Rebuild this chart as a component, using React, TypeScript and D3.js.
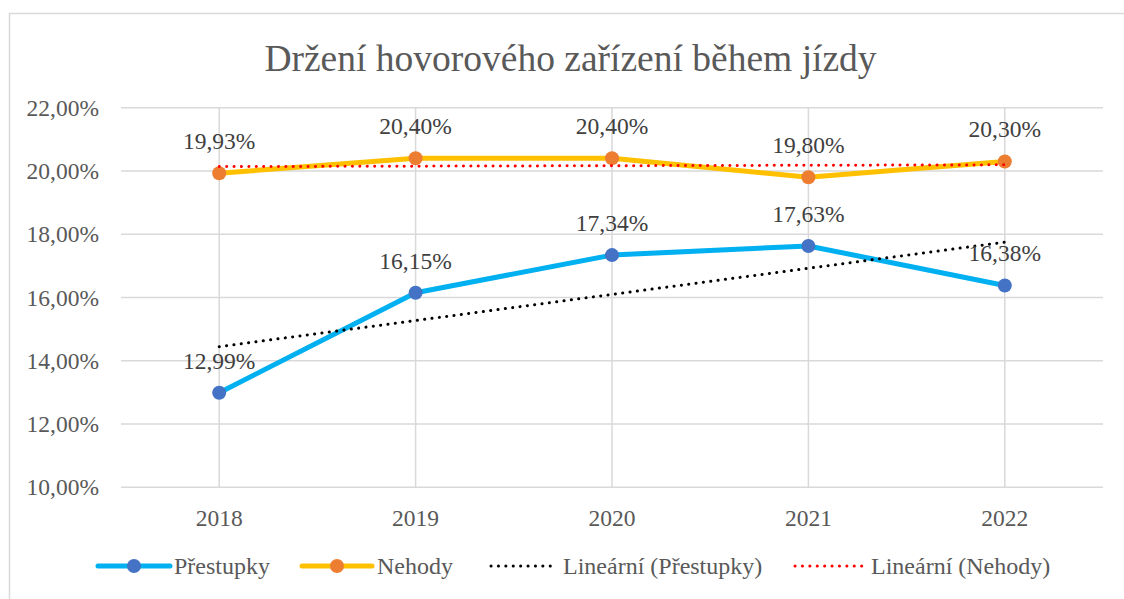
import React, { useEffect, useRef } from "react";
import { select, scaleLinear, scalePoint, line, range } from "d3";

const years = ["2018", "2019", "2020", "2021", "2022"];
const prestupky = [12.99, 16.15, 17.34, 17.63, 16.38];
const nehody = [19.93, 20.4, 20.4, 19.8, 20.3];
const yTicks = [10, 12, 14, 16, 18, 20, 22];
const title = "Držení hovorového zařízení během jízdy";

const fmt = (v: number) => v.toFixed(2).replace(".", ",") + "%";

// least squares line, like Excel's linear trendline
const trend = (vals: number[]) => {
  const n = vals.length;
  const xs = range(1, n + 1);
  const mx = (n + 1) / 2;
  const my = vals.reduce((a, b) => a + b, 0) / n;
  let num = 0, den = 0;
  xs.forEach((x, i) => {
    num += (x - mx) * (vals[i] - my);
    den += (x - mx) * (x - mx);
  });
  const k = num / den;
  return xs.map((x) => my + k * (x - mx));
};

const App = () => {
  const svgRef = useRef<SVGSVGElement>(null);

  useEffect(() => {
    const svg = select(svgRef.current);
    svg.selectAll("*").remove();
    const font = "Liberation Serif, Times New Roman, serif";
    const grey = "#595959";

    const left = 121, right = 1103, top = 107.7, bottom = 487.3;

    const x = scalePoint<string>().domain(years).range([left, right]).padding(0.5);
    const y = scaleLinear().domain([10, 22]).range([bottom, top]);

    // chart border
    svg.append("rect")
      .attr("x", 9.5).attr("y", 13.5)
      .attr("width", 1300).attr("height", 800)
      .attr("fill", "white").attr("stroke", "#d9d9d9").attr("stroke-width", 1.5);

    svg.append("text")
      .attr("x", 570.5).attr("y", 71)
      .attr("text-anchor", "middle")
      .attr("font-family", font).attr("font-size", 37.5)
      .attr("fill", grey).text(title);

    // gridlines
    svg.selectAll(".hgrid").data(yTicks).join("line")
      .attr("x1", left).attr("x2", right)
      .attr("y1", (d) => y(d)).attr("y2", (d) => y(d))
      .attr("stroke", "#d9d9d9").attr("stroke-width", 1.5);
    svg.selectAll(".vgrid").data(years).join("line")
      .attr("x1", (d) => x(d)!).attr("x2", (d) => x(d)!)
      .attr("y1", top).attr("y2", bottom)
      .attr("stroke", "#d9d9d9").attr("stroke-width", 1.5);

    svg.selectAll(".ylab").data(yTicks).join("text")
      .attr("x", 99).attr("y", (d) => y(d) + 8)
      .attr("text-anchor", "end")
      .attr("font-family", font).attr("font-size", 23.5).attr("fill", grey)
      .text((d) => d.toFixed(2).replace(".", ",") + "%");

    svg.selectAll(".xlab").data(years).join("text")
      .attr("x", (d) => x(d)!).attr("y", 526)
      .attr("text-anchor", "middle")
      .attr("font-family", font).attr("font-size", 23.5).attr("fill", grey)
      .text((d) => d);

    const gen = line<number>().x((_, i) => x(years[i])!).y((d) => y(d));

    const series = [
      { vals: nehody, line: "#FFC000", marker: "#ED7D31", trendColor: "red" },
      { vals: prestupky, line: "#00B0F0", marker: "#4472C4", trendColor: "black" },
    ];

    series.forEach((s) => {
      svg.append("path").datum(s.vals)
        .attr("d", gen).attr("fill", "none")
        .attr("stroke", s.line).attr("stroke-width", 5)
        .attr("stroke-linejoin", "round");
    });
    series.forEach((s) => {
      svg.append("g").selectAll("circle").data(s.vals).join("circle")
        .attr("cx", (_, i) => x(years[i])!).attr("cy", (d) => y(d))
        .attr("r", 7).attr("fill", s.marker);
    });
    series.forEach((s) => {
      svg.append("path").datum(trend(s.vals))
        .attr("d", gen).attr("fill", "none")
        .attr("stroke", s.trendColor).attr("stroke-width", 3)
        .attr("stroke-linecap", "round")
        .attr("stroke-dasharray", "0.1 7.3");
    });
    series.forEach((s) => {
      svg.append("g").selectAll("text").data(s.vals).join("text")
        .attr("x", (_, i) => x(years[i])!).attr("y", (d) => y(d) - 24)
        .attr("text-anchor", "middle")
        .attr("font-family", font).attr("font-size", 23.5).attr("fill", "#404040")
        .text((d) => fmt(d));
    });

    // legend
    const ly = 566;
    const legend = [
      { x0: 98, x1: 170, tx: 174, label: "Přestupky", color: "#00B0F0", marker: "#4472C4", dotted: false },
      { x0: 302, x1: 372, tx: 377, label: "Nehody", color: "#FFC000", marker: "#ED7D31", dotted: false },
      { x0: 491, x1: 556, tx: 563, label: "Lineární (Přestupky)", color: "black", marker: null, dotted: true },
      { x0: 795, x1: 862, tx: 871, label: "Lineární (Nehody)", color: "red", marker: null, dotted: true },
    ];
    legend.forEach((l) => {
      svg.append("line")
        .attr("x1", l.x0).attr("x2", l.x1).attr("y1", ly).attr("y2", ly)
        .attr("stroke", l.color).attr("stroke-width", l.dotted ? 3 : 5)
        .attr("stroke-linecap", "round")
        .attr("stroke-dasharray", l.dotted ? "0.1 7.3" : null);
      if (l.marker) {
        svg.append("circle").attr("cx", (l.x0 + l.x1) / 2).attr("cy", ly)
          .attr("r", 7).attr("fill", l.marker);
      }
      svg.append("text")
        .attr("x", l.tx).attr("y", ly + 8)
        .attr("font-family", font).attr("font-size", 24).attr("fill", grey)
        .text(l.label);
    });
  }, []);

  return (
    <svg
      ref={svgRef}
      width={1124}
      height={599}
      style={{ position: "absolute", left: 0, top: 0, background: "white" }}
    />
  );
};

export default App;
